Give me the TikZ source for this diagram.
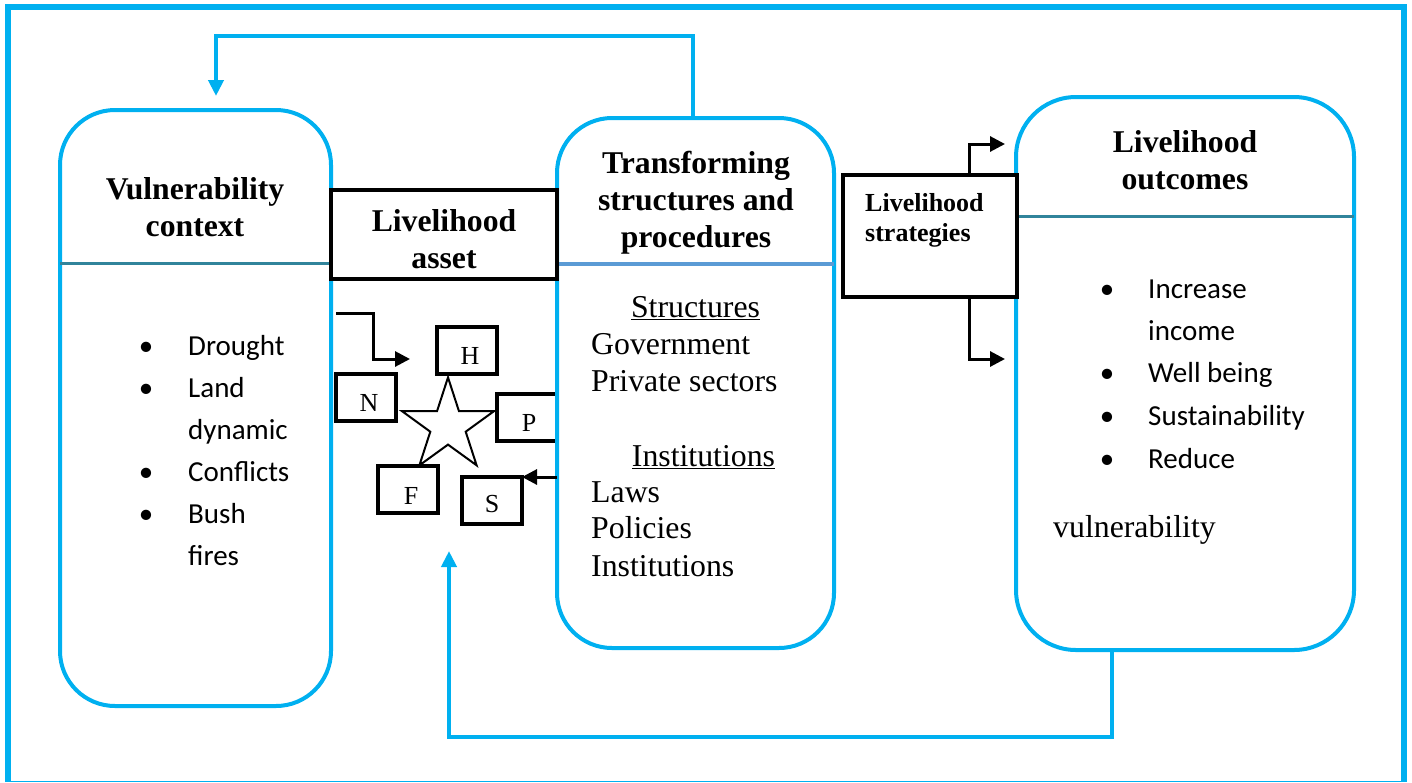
\documentclass[tikz,border=0pt]{standalone}
\usepackage{fontspec}
\setmainfont{Liberation Serif}
\newfontfamily\calfont{Carlito}
\usetikzlibrary{arrows.meta,calc}
\definecolor{sky}{HTML}{00B0F0}
\definecolor{tealline}{HTML}{31849B}
\definecolor{softblue}{HTML}{5B9BD5}
\begin{document}
\begin{tikzpicture}[x=1pt,y=-1pt,
  rbox/.style={draw=sky,line width=4pt,rounded corners=55pt,inner sep=0pt,outer sep=0pt,anchor=north west},
  kbox/.style={draw=black,line width=4pt,fill=white,inner sep=0pt,outer sep=0pt,anchor=north west},
  lbox/.style={draw=black,line width=3.8pt,fill=white,inner sep=0pt,outer sep=0pt,anchor=north west,minimum width=60pt,minimum height=47pt},
  skyarrow/.style={draw=sky,line width=4pt,-{Triangle[length=16pt,width=15pt]}},
  karrow/.style={draw=black,line width=3pt,-{Triangle[length=15pt,width=15pt]}},
  ttl/.style={font=\fontsize{31.7}{37}\selectfont\bfseries,anchor=base,inner sep=0pt},
  sttl/.style={font=\fontsize{26}{30}\selectfont\bfseries,anchor=base west,inner sep=0pt},
  bod/.style={font=\fontsize{31.8}{37}\selectfont,anchor=base west,inner sep=0pt},
  bul/.style={font=\calfont\fontsize{29}{41}\selectfont,anchor=base west,inner sep=0pt},
  dot/.style={font=\calfont\fontsize{29}{41}\selectfont,anchor=base,inner sep=0pt},
  letter/.style={font=\fontsize{26}{30}\selectfont,anchor=base,inner sep=0pt},
]
\useasboundingbox (0,0) rectangle (1412,782);
% outer frame
\draw[sky,line width=6pt] (8,782) -- (8,7) -- (1404,7) -- (1404,782);
\draw[sky,line width=1pt] (8,781) -- (1404,781);

% star and asset boxes
\draw[line width=2pt,fill=white] (448,377.4) -- (458.9,411) -- (494.2,411) -- (465.7,431.7) -- (476.6,465.3) -- (448,444.6) -- (419.4,465.3) -- (430.3,431.7) -- (401.8,411) -- (437.1,411) -- cycle;
\node[lbox] (H) at (437,327) {};
\node[lbox] (N) at (336,374) {};
\node[lbox] (P) at (497,394) {};
\node[lbox] (F) at (378,466) {};
\node[lbox] (S) at (462,477) {};
\node[letter] (Hl) at (470,364) {H};
\node[letter] (Nl) at (369,411) {N};
\node[letter] (Pl) at (529,431) {P};
\node[letter] (Fl) at (411,504) {F};
\node[letter] (Sl) at (492,512) {S};

% main rounded boxes
\node[rbox,minimum width=271pt,minimum height=596pt] (vul) at (60,110) {};
\node[rbox,minimum width=277pt,minimum height=530pt] (trans) at (557,118) {};
\node[rbox,minimum width=338pt,minimum height=553pt,rounded corners=60pt] (out) at (1016,97) {};
\draw[tealline,line width=3pt] ($(vul.north west)+(0,153)$) -- ($(vul.north east)+(0,153)$);
\draw[softblue,line width=4pt] ($(trans.north west)+(0,146)$) -- ($(trans.north east)+(0,146)$);
\draw[tealline,line width=3pt] ($(out.north west)+(0,119)$) -- ($(out.north east)+(0,119)$);

% black boxes
\node[kbox,minimum width=226pt,minimum height=89pt] (asset) at (331,190) {};
\node[kbox,minimum width=174pt,minimum height=122pt] (strat) at (843,175) {};

% titles
\node[ttl] (vt1) at (195,199) {Vulnerability};
\node[ttl] (vt2) at (195,236) {context};
\node[ttl] (at1) at (444,231) {Livelihood};
\node[ttl] (at2) at (444,268) {asset};
\node[ttl] (tt1) at (696,173) {Transforming};
\node[ttl] (tt2) at (696,210) {structures and};
\node[ttl] (tt3) at (696,247) {procedures};
\node[ttl] (ot1) at (1185,152) {Livelihood};
\node[ttl] (ot2) at (1185,189) {outcomes};
\node[sttl] (st1) at (865,211) {Livelihood};
\node[sttl] (st2) at (865,241) {strategies};

% transforming body
\node[bod,anchor=base] (s1) at (695.5,317) {\underline{Structures}};
\node[bod] (s2) at (591,354) {Government};
\node[bod] (s3) at (591,391) {Private sectors};
\node[bod,anchor=base] (s4) at (703.5,466) {\underline{Institutions}};
\node[bod] (s5) at (591,502) {Laws};
\node[bod] (s6) at (591,538) {Policies};
\node[bod] (s7) at (591,576) {Institutions};

% vulnerability list
\node[dot] (vb1) at (146,355) {•};
\node[dot] (vb2) at (146,397) {•};
\node[dot] (vb3) at (146,481) {•};
\node[dot] (vb4) at (146,523) {•};
\node[bul] (v1) at (188,355) {Drought};
\node[bul] (v2) at (188,397) {Land};
\node[bul] (v3) at (188,439) {dynamic};
\node[bul] (v4) at (188,481) {Conflicts};
\node[bul] (v5) at (188,523) {Bush};
\node[bul] (v6) at (188,565) {fires};

% outcomes list
\node[dot] (ob1) at (1107,298) {•};
\node[dot] (ob2) at (1107,382) {•};
\node[dot] (ob3) at (1107,425) {•};
\node[dot] (ob4) at (1107,468) {•};
\node[bul] (o1) at (1148,298) {Increase};
\node[bul] (o2) at (1148,340) {income};
\node[bul] (o3) at (1148,382) {Well being};
\node[bul] (o4) at (1148,425) {Sustainability};
\node[bul] (o5) at (1148,468) {Reduce};
\node[bod] (o6) at (1053,537) {vulnerability};

% black arrows
\coordinate (sa0) at (336,313);
\coordinate (sa1) at (410,359);
\draw[karrow] (sa0) -| (373,359) -- (sa1);
\draw[karrow] (trans.west |- S.north east) -- (S.north east);
\coordinate (so1) at (1005,144);
\coordinate (so2) at (1005,359);
\draw[karrow] ($(strat.north west)+(126,0)$) |- (so1);
\draw[karrow] ($(strat.south west)+(126,0)$) |- (so2);

% blue feedback arrows
\coordinate (fb1) at (216,96);
\coordinate (fb2) at (449,551);
\draw[skyarrow] ($(trans.north west)+(136,0)$) -- ++(0,-82) -| (fb1);
\draw[skyarrow] ($(out.south west)+(96,0)$) -- ++(0,87) -| (fb2);
\end{tikzpicture}
\end{document}
